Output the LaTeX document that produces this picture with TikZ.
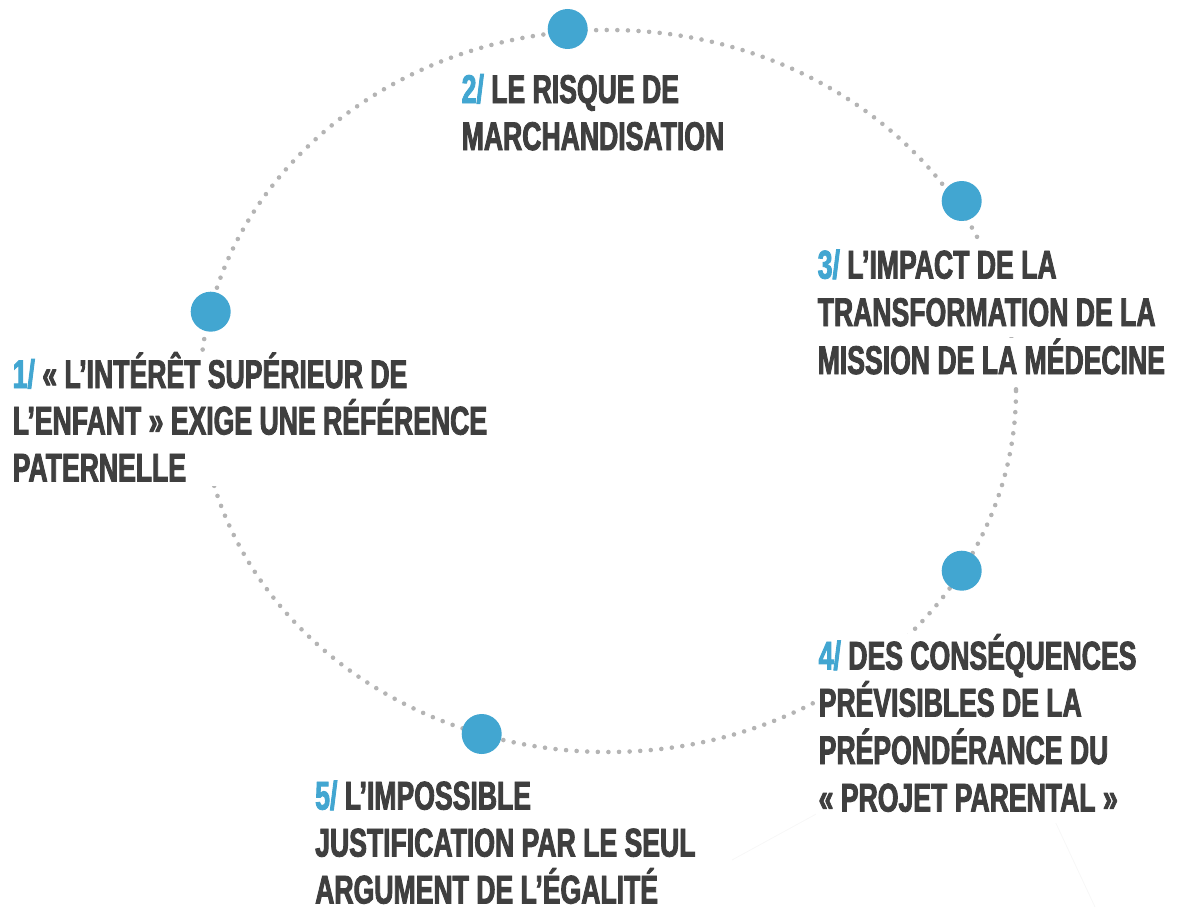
\documentclass[tikz,border=0pt]{standalone}
\usepackage{fontspec}
\newfontfamily\condfont{Liberation Sans}[FakeStretch=0.665,FakeBold=2.2]
\definecolor{myblue}{HTML}{42A6D1}
\definecolor{dotgray}{HTML}{B4B4B4}
\definecolor{txtgray}{HTML}{3F3F3F}
\tikzset{
  ring/.style={draw=dotgray, line width=4.6pt, line cap=round, dash pattern=on 0pt off 10.6pt},
  bluedot/.style={circle, fill=myblue, minimum size=40pt, inner sep=0pt},
  txt/.style={font=\condfont\bfseries\fontsize{40}{47}\selectfont, text=txtgray, anchor=base west,
    inner xsep=3pt, inner ysep=0pt, text height=36pt, text depth=11pt, fill=white},
  faint/.style={draw=black!3, line width=0.8pt}
}
\newcommand\num[1]{\textcolor{myblue}{#1}}
\begin{document}
\begin{tikzpicture}[x=1pt,y=-1pt]
\useasboundingbox (0,0) rectangle (1185,907);
% dotted ring
\draw[ring] (608,391) ellipse [x radius=408, y radius=361];
% faint remnant lines
\draw[faint] (818,813) -- (732,860);
\draw[faint] (1053,817) -- (1095,907);
% blue markers
\node[bluedot] (d1) at (210.7,311.7) {};
\node[bluedot] (d2) at (567.7,29) {};
\node[bluedot] (d3) at (961.7,201) {};
\node[bluedot] (d4) at (961.7,570.7) {};
\node[bluedot] (d5) at (481.7,734) {};
% text 1
\node[txt] (t1a) at (9.5,388) {\num{1/} « L’INTÉRÊT SUPÉRIEUR DE};
\node[txt] (t1b) at (9.5,434.5) {L’ENFANT » EXIGE UNE RÉFÉRENCE};
\node[txt, text width=460pt, align=left, text depth=4pt] (t1c) at (9.5,481.5) {PATERNELLE};
% text 2
\node[txt] (t2a) at (458.5,103) {\num{2/} LE RISQUE DE};
\node[txt] (t2b) at (458.5,150) {MARCHANDISATION};
% text 3
\node[txt] (t3a) at (814.5,278.5) {\num{3/} L’IMPACT DE LA};
\node[txt] (t3b) at (814.5,326) {TRANSFORMATION DE LA};
\node[txt] (t3c) at (814.5,374) {MISSION DE LA MÉDECINE};
% text 4
\node[txt] (t4a) at (815.5,669.5) {\num{4/} DES CONSÉQUENCES};
\node[txt] (t4b) at (815.5,716.5) {PRÉVISIBLES DE LA};
\node[txt] (t4c) at (815.5,764) {PRÉPONDÉRANCE DU};
\node[txt] (t4d) at (815.5,811.5) {« PROJET PARENTAL »};
% text 5
\node[txt] (t5a) at (312,809.5) {\num{5/} L’IMPOSSIBLE};
\node[txt] (t5b) at (312,856.5) {JUSTIFICATION PAR LE SEUL};
\node[txt] (t5c) at (312,903.5) {ARGUMENT DE L’ÉGALITÉ};
\end{tikzpicture}
\end{document}
